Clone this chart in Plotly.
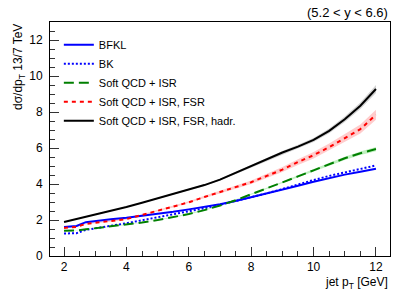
import plotly.graph_objects as go

# ---- data ----
pt = [2, 2.4, 2.7, 3, 3.5, 4, 4.5, 5, 5.5, 6, 6.5, 7, 7.5, 8, 8.5, 9, 9.5, 10, 10.5, 11, 11.5, 12]

bfkl = [1.61, 1.67, 1.88, 1.95, 2.04, 2.13, 2.23, 2.34, 2.46, 2.59, 2.73, 2.88, 3.06, 3.26, 3.48, 3.69, 3.90, 4.12, 4.33, 4.52, 4.68, 4.85]
bk = [1.25, 1.27, 1.45, 1.55, 1.68, 1.82, 1.98, 2.13, 2.30, 2.47, 2.65, 2.85, 3.05, 3.25, 3.48, 3.72, 3.98, 4.22, 4.45, 4.65, 4.85, 5.03]
isr = [1.40, 1.42, 1.48, 1.54, 1.63, 1.74, 1.86, 2.00, 2.15, 2.33, 2.55, 2.80, 3.10, 3.42, 3.75, 4.07, 4.42, 4.76, 5.10, 5.43, 5.71, 5.94]
isr_fsr = [1.56, 1.62, 1.78, 1.84, 1.93, 2.05, 2.28, 2.52, 2.75, 2.98, 3.28, 3.56, 3.83, 4.10, 4.45, 4.80, 5.22, 5.60, 6.05, 6.55, 7.05, 7.85]
isr_fsr_had = [1.89, 2.05, 2.20, 2.32, 2.50, 2.72, 2.96, 3.20, 3.44, 3.68, 3.94, 4.24, 4.62, 5.00, 5.38, 5.75, 6.08, 6.45, 6.95, 7.60, 8.35, 9.28]

# uncertainty half-widths (bands)
isr_err = [0.01, 0.01, 0.01, 0.01, 0.01, 0.02, 0.02, 0.02, 0.02, 0.03, 0.03, 0.03, 0.04, 0.04, 0.05, 0.05, 0.06, 0.07, 0.08, 0.09, 0.10, 0.12]
isr_fsr_err = [0.02, 0.02, 0.02, 0.03, 0.03, 0.03, 0.04, 0.04, 0.05, 0.06, 0.07, 0.08, 0.09, 0.10, 0.12, 0.14, 0.16, 0.18, 0.20, 0.22, 0.25, 0.28]
isr_fsr_had_err = [0.02, 0.02, 0.02, 0.02, 0.02, 0.03, 0.03, 0.03, 0.04, 0.04, 0.05, 0.05, 0.06, 0.07, 0.08, 0.09, 0.10, 0.11, 0.13, 0.15, 0.18, 0.22]

names = ["BFKL", "BK", "Soft QCD + ISR", "Soft QCD + ISR, FSR", "Soft QCD + ISR, FSR, hadr."]
colors = ["#0000ff", "#0000ff", "#007f00", "#ff0000", "#000000"]
dashes = ["solid", "2px,2px", "10px,5px", "4px,4px", "solid"]

fig = go.Figure()

# bands
for y, e, fillc in [(isr, isr_err, "rgba(0,200,0,0.25)"),
                    (isr_fsr, isr_fsr_err, "rgba(255,0,0,0.2)"),
                    (isr_fsr_had, isr_fsr_had_err, "rgba(0,0,0,0.18)")]:
    up = [a + b for a, b in zip(y, e)]
    lo = [a - b for a, b in zip(y, e)]
    fig.add_trace(go.Scatter(x=pt + pt[::-1], y=up + lo[::-1], fill="toself",
                             fillcolor=fillc, line=dict(width=0), mode="lines",
                             showlegend=False, hoverinfo="skip"))

for y, n, c, d in zip([bfkl, bk, isr, isr_fsr, isr_fsr_had], names, colors, dashes):
    fig.add_trace(go.Scatter(x=pt, y=y, mode="lines", name=n,
                             line=dict(color=c, width=2, dash=d)))

font_family = "Liberation Sans, Arial, Helvetica, sans-serif"

fig.update_layout(
    width=407, height=292,
    margin=dict(l=50, r=17, t=22, b=36),
    paper_bgcolor="white", plot_bgcolor="white",
    font=dict(family=font_family, size=12, color="black"),
    legend=dict(x=0.026, y=0.965, xanchor="left", yanchor="top",
                bgcolor="rgba(0,0,0,0)", font=dict(size=11),
                tracegroupgap=0),
    xaxis=dict(range=[1.55, 12.45], tick0=2, dtick=2, ticks="inside", ticklen=9,
               tickcolor="#333", showline=True, linecolor="black", linewidth=1,
               mirror=True, showgrid=False, zeroline=False,
               minor=dict(dtick=0.5, tick0=2, ticks="inside", ticklen=5, tickcolor="#333", showgrid=False),
               tickfont=dict(size=12), ticklabelstandoff=0),
    yaxis=dict(range=[0, 13], tick0=0, dtick=2, ticks="inside", ticklen=9,
               tickcolor="#333", showline=True, linecolor="black", linewidth=1,
               mirror=True, showgrid=False, zeroline=False,
               minor=dict(dtick=0.5, tick0=0, ticks="inside", ticklen=5, tickcolor="#333", showgrid=False),
               tickfont=dict(size=12), ticklabelstandoff=4),
    annotations=[
        dict(text="(5.2 < y < 6.6)", xref="paper", yref="paper", x=1, y=1,
             xanchor="right", yanchor="bottom", showarrow=False, font=dict(size=13)),
        dict(text="jet p<sub>T</sub> [GeV]", xref="paper", yref="paper", x=1, y=0,
             xanchor="right", yanchor="top", yshift=-17, showarrow=False, font=dict(size=12)),
        dict(text="dσ/dp<sub>T</sub> 13/7 TeV", xref="paper", yref="paper", x=0, y=1,
             xanchor="center", yanchor="top", xshift=-31, textangle=-90,
             showarrow=False, font=dict(size=12)),
    ],
)

fig.write_html("out.html", config={"displayModeBar": False},
               post_script="document.body.style.margin='0';")
